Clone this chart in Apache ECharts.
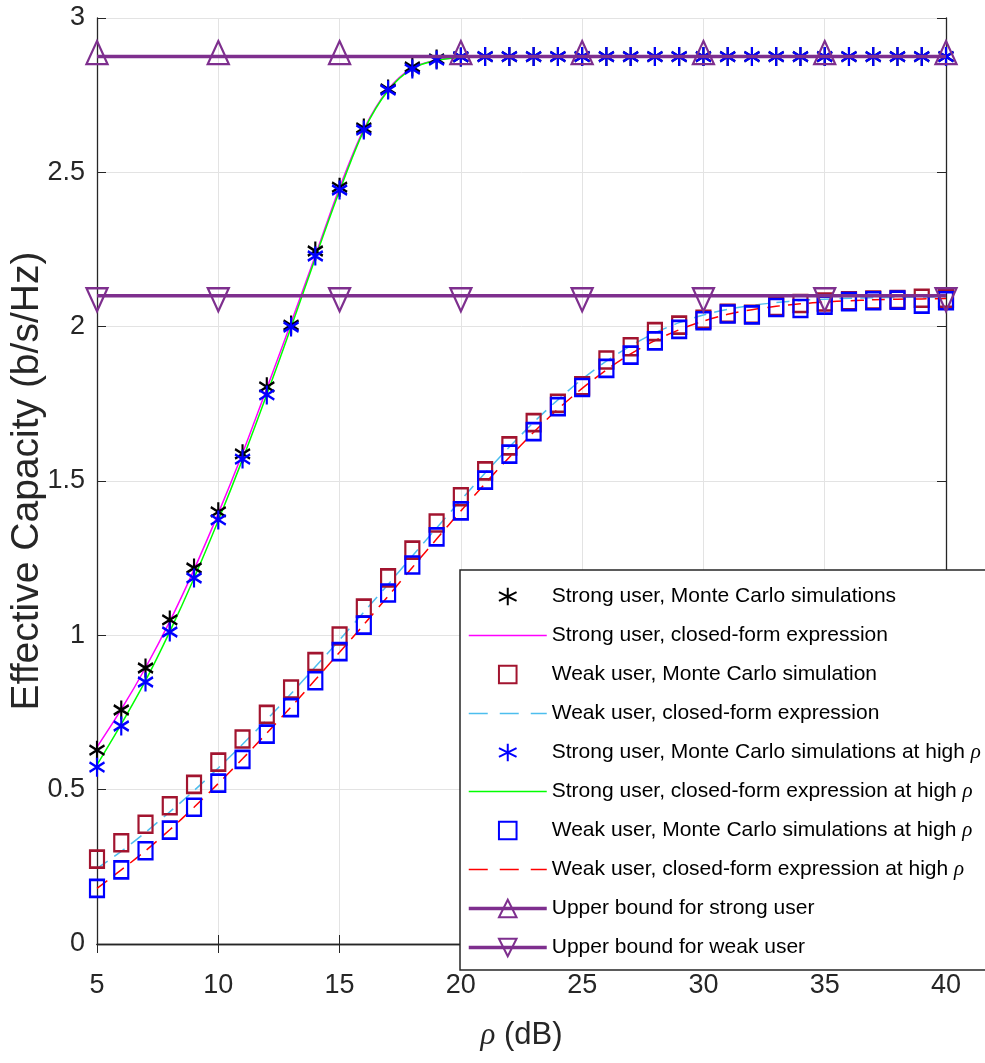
<!DOCTYPE html>
<html>
<head>
<meta charset="utf-8">
<script src="https://cdn.jsdelivr.net/npm/echarts@6/dist/echarts.min.js"></script>
<style>
  html, body { margin: 0; padding: 0; background: #fff; }
  #chart { width: 985px; height: 1063px; }
</style>
</head>
<body>
<div id="chart"></div>
<script>
// SNR axis (dB)
const rho = [5,6,7,8,9,10,11,12,13,14,15,16,17,18,19,20,21,22,23,24,25,26,27,28,29,30,31,32,33,34,35,36,37,38,39,40];
const rhoBound = [5,10,15,20,25,30,35,40];
const xTicks = [5,10,15,20,25,30,35,40];
const yTicks = [0,0.5,1,1.5,2,2.5,3];

// Strong user
const strongMC = [0.628,0.758,0.894,1.050,1.218,1.400,1.588,1.805,2.005,2.245,2.452,2.644,2.770,2.841,2.867,2.874,2.875,2.875,2.875,2.875,2.875,2.875,2.875,2.875,2.875,2.875,2.875,2.875,2.875,2.875,2.875,2.875,2.875,2.875,2.875,2.875];
const strongCF = [0.638,0.760,0.895,1.045,1.213,1.395,1.590,1.800,2.013,2.230,2.450,2.640,2.768,2.838,2.864,2.872,2.875,2.875,2.875,2.875,2.875,2.875,2.875,2.875,2.875,2.875,2.875,2.875,2.875,2.875,2.875,2.875,2.875,2.875,2.875,2.875];
const strongMCHigh = [0.573,0.706,0.849,1.011,1.186,1.374,1.571,1.779,1.999,2.229,2.443,2.637,2.767,2.835,2.864,2.874,2.875,2.875,2.875,2.875,2.875,2.875,2.875,2.875,2.875,2.875,2.875,2.875,2.875,2.875,2.875,2.875,2.875,2.875,2.875,2.875];
const strongCFHigh = [0.580,0.712,0.853,1.012,1.185,1.372,1.570,1.780,1.998,2.222,2.440,2.635,2.765,2.836,2.863,2.872,2.875,2.875,2.875,2.875,2.875,2.875,2.875,2.875,2.875,2.875,2.875,2.875,2.875,2.875,2.875,2.875,2.875,2.875,2.875,2.875];

// Weak user
const weakMC = [0.275,0.328,0.388,0.448,0.517,0.589,0.664,0.744,0.826,0.915,0.998,1.088,1.186,1.276,1.364,1.449,1.533,1.614,1.689,1.752,1.808,1.892,1.935,1.984,2.005,2.024,2.043,2.040,2.065,2.075,2.080,2.084,2.086,2.088,2.092,2.092];
const weakCF = [0.245,0.300,0.362,0.428,0.497,0.570,0.647,0.727,0.811,0.898,0.985,1.075,1.165,1.257,1.348,1.438,1.526,1.610,1.690,1.763,1.830,1.888,1.938,1.980,2.013,2.038,2.056,2.069,2.078,2.085,2.089,2.092,2.094,2.095,2.096,2.097];
const weakMCHigh = [0.180,0.240,0.302,0.369,0.443,0.521,0.598,0.680,0.766,0.853,0.947,1.033,1.137,1.228,1.319,1.403,1.503,1.587,1.660,1.741,1.803,1.865,1.908,1.954,1.991,2.019,2.041,2.038,2.062,2.059,2.070,2.081,2.084,2.086,2.073,2.084];
const weakCFHigh = [0.180,0.240,0.302,0.370,0.443,0.520,0.600,0.683,0.768,0.856,0.945,1.035,1.127,1.220,1.312,1.403,1.492,1.577,1.658,1.733,1.800,1.860,1.912,1.955,1.990,2.018,2.040,2.055,2.066,2.074,2.080,2.084,2.087,2.089,2.090,2.091];

// Upper bounds
const boundStrong = [2.875,2.875,2.875,2.875,2.875,2.875,2.875,2.875];
const boundWeak = [2.1,2.1,2.1,2.1,2.1,2.1,2.1,2.1];

const SANS = '"Liberation Sans", Arial, sans-serif';
const SERIF = '"Liberation Serif", "DejaVu Serif", serif';
const INK = '#262626';
const PURPLE = '#7E2F8E';
const CLEAR = 'rgba(0,0,0,0)';

const pairs = (xs, ys) => xs.map((x, i) => [x, ys[i]]);
// six-armed asterisk marker, drawn as strokes only
const ASTERISK = 'path://M0,-10L0,10M-8.66,-5L8.66,5M-8.66,5L8.66,-5';

function markerSeries(name, xs, ys, symbol, color, size) {
  return {
    name, type: 'line', data: pairs(xs, ys),
    symbol, symbolSize: size, showSymbol: true,
    lineStyle: { width: 0, opacity: 0 },
    itemStyle: { color: CLEAR, borderColor: color, borderWidth: 2.4 },
    emphasis: { disabled: true }, animation: false
  };
}
function curveSeries(name, xs, ys, color, type) {
  return {
    name, type: 'line', data: pairs(xs, ys), smooth: 0.3,
    symbol: 'none', showSymbol: false,
    lineStyle: { width: 1.5, color, type: type || 'solid' },
    itemStyle: { color: CLEAR, borderWidth: 0 },
    emphasis: { disabled: true }, animation: false
  };
}
function boundSeries(name, xs, ys, rotate, offset) {
  return {
    name, type: 'line', data: pairs(xs, ys),
    symbol: 'triangle', symbolRotate: rotate, symbolSize: [21, 23], symbolOffset: [0, offset],
    lineStyle: { width: 3.5, color: PURPLE },
    itemStyle: { color: CLEAR, borderColor: PURPLE, borderWidth: 2.3 },
    emphasis: { disabled: true }, animation: false, z: 5
  };
}

const names = [
  'Strong user, Monte Carlo simulations',
  'Strong user, closed-form expression',
  'Weak user, Monte Carlo simulation',
  'Weak user, closed-form expression',
  'Strong user, Monte Carlo simulations at high ρ',
  'Strong user, closed-form expression at high ρ',
  'Weak user, Monte Carlo simulations at high ρ',
  'Weak user, closed-form expression at high ρ',
  'Upper bound for strong user',
  'Upper bound for weak user'
];

const DASH = [13, 8];
const series = [
  markerSeries(names[0], rho, strongMC, ASTERISK, '#000000', [15, 19]),
  curveSeries(names[1], rho, strongCF, '#FF00FF'),
  markerSeries(names[2], rho, weakMC, 'rect', '#A2142F', [14, 17]),
  curveSeries(names[3], rho, weakCF, '#4DBEEE', DASH),
  markerSeries(names[4], rho, strongMCHigh, ASTERISK, '#0000FF', [15, 19]),
  curveSeries(names[5], rho, strongCFHigh, '#00FF00'),
  markerSeries(names[6], rho, weakMCHigh, 'rect', '#0000FF', [14, 17]),
  curveSeries(names[7], rho, weakCFHigh, '#FF0000', DASH),
  boundSeries(names[8], rhoBound, boundStrong, 0, -4),
  boundSeries(names[9], rhoBound, boundWeak, 180, 4)
];

// legend entries: line widths / dash patterns for the sample strokes
const legendLine = [
  { width: 0 }, { width: 1.5 }, { width: 0 }, { width: 1.5, type: [19, 12] },
  { width: 0 }, { width: 1.5 }, { width: 0 }, { width: 1.5, type: [19, 12] },
  { width: 3.5 }, { width: 3.5 }
];
const legendData = names.map((n, i) => ({ name: n, lineStyle: legendLine[i] }));

const axisLine = { show: true, lineStyle: { color: INK, width: 1.3 } };
const tick = { show: true, inside: true, length: 9, lineStyle: { color: INK } };

const chart = echarts.init(document.getElementById('chart'), null, { renderer: 'canvas' });
chart.setOption({
  backgroundColor: '#ffffff',
  animation: false,
  grid: { left: 97, right: 39, top: 18, bottom: 119, containLabel: false, outerBoundsMode: 'none' },
  xAxis: [
    {
      type: 'value', min: xTicks[0], max: xTicks[xTicks.length - 1], interval: 5,
      position: 'bottom', axisLine, axisTick: tick,
      axisLabel: { color: INK, fontFamily: SANS, fontSize: 27, margin: 28 },
      splitLine: { show: true, lineStyle: { color: '#e3e3e3', width: 1 } },
      name: '{r|ρ} (dB)', nameLocation: 'middle', nameGap: 76, nameMoveOverlap: false,
      nameTextStyle: {
        color: INK, fontFamily: SANS, fontSize: 31,
        rich: { r: { fontFamily: SERIF, fontStyle: 'italic', fontSize: 31, color: INK } }
      }
    },
    {
      type: 'value', min: xTicks[0], max: xTicks[xTicks.length - 1], interval: 5,
      position: 'top', axisLine, axisTick: tick,
      axisLabel: { show: false }, splitLine: { show: false }
    }
  ],
  yAxis: [
    {
      type: 'value', min: yTicks[0], max: yTicks[yTicks.length - 1], interval: 0.5,
      position: 'left', axisLine, axisTick: tick,
      axisLabel: { color: INK, fontFamily: SANS, fontSize: 27, margin: 12 },
      splitLine: { show: true, lineStyle: { color: '#e3e3e3', width: 1 } },
      name: 'Effective Capacity (b/s/Hz)', nameLocation: 'middle', nameGap: 50, nameMoveOverlap: false,
      nameTextStyle: { color: INK, fontFamily: SANS, fontSize: 39 }
    },
    {
      type: 'value', min: yTicks[0], max: yTicks[yTicks.length - 1], interval: 0.5,
      position: 'right', axisLine, axisTick: tick,
      axisLabel: { show: false }, splitLine: { show: false }
    }
  ],
  legend: {
    orient: 'vertical', left: 460, top: 570,
    data: legendData,
    itemWidth: 78, itemHeight: 22, itemGap: 18,
    padding: [16, 60, 12, 7],
    backgroundColor: '#ffffff', borderColor: INK, borderWidth: 1.5,
    selectedMode: false,
    formatter: n => n.replace('ρ', '{r|ρ}'),
    textStyle: {
      color: '#000000', fontFamily: SANS, fontSize: 21,
      rich: { r: { fontFamily: SERIF, fontStyle: 'italic', fontSize: 21, color: '#000000' } }
    }
  },
  series: series
});
</script>
</body>
</html>
